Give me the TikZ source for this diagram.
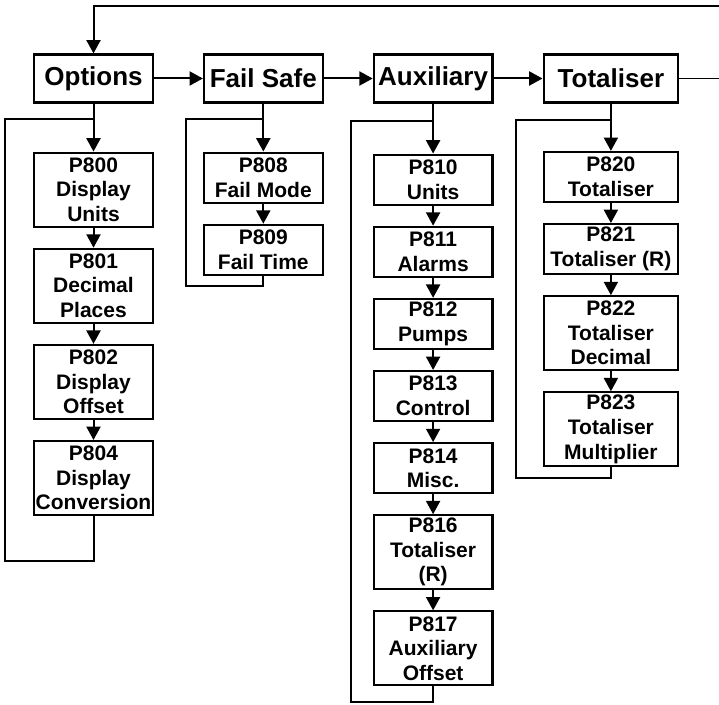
\documentclass[tikz,border=0pt]{standalone}
\usepackage{fontspec}
\setmainfont{Liberation Sans}
\usetikzlibrary{arrows.meta,positioning,calc}
\tikzset{
  menu/.style={draw,line width=1.6pt,minimum width=89pt,minimum height=36pt,inner sep=0pt,font=\fontsize{19.5pt}{22pt}\selectfont\bfseries},
  param/.style={draw,line width=1.6pt,minimum width=89pt,inner sep=0pt,align=center,font=\fontsize{15.75pt}{18.4pt}\selectfont\bfseries},
  two/.style={minimum height=37.5pt},
  three/.style={minimum height=55.5pt},
  wide/.style={minimum width=101pt},
  arr/.style={-{Triangle[length=10pt,width=10.5pt]},line width=1.5pt},
  loopline/.style={line width=1.5pt},
  exitline/.style={line width=1pt}
}
\begin{document}
\begin{tikzpicture}[x=0.75pt,y=-0.75pt,node distance=15pt and 36.75pt]
  \useasboundingbox (0,0) rectangle (719,705);
  % menu headers
  \node[menu] (opt) at (93.5,78.5) {Options};
  \node[menu,right=of opt] (fail) {Fail Safe};
  \node[menu,right=of fail] (aux) {Auxiliary};
  \node[menu,wide,right=of aux] (tot) {Totaliser};
  \coordinate (back) at (719,6);
  \coordinate (totout) at (719,78.5);
  \draw[arr] (opt) -- (fail);
  \draw[arr] (fail) -- (aux);
  \draw[arr] (aux) -- (tot);
  \draw[exitline] (tot) -- (totout);
  \draw[arr] (back) -| (opt);

  % options
  \node[param,three,below=36pt of opt] (p800) {P800\\Display\\Units};
  \node[param,three,below=of p800] (p801) {P801\\Decimal\\Places};
  \node[param,three,below=of p801] (p802) {P802\\Display\\Offset};
  \node[param,three,below=of p802] (p804) {P804\\Display\\Conversion};
  \coordinate (j1) at ($(opt.south)+(0,15)$);
  \draw[arr] (opt) -- (p800);
  \draw[arr] (p800) -- (p801);
  \draw[arr] (p801) -- (p802);
  \draw[arr] (p802) -- (p804);
  \draw[loopline] (p804.south) |- ++(-88.5,45) |- (j1);

  % fail safe
  \node[param,two,below=36pt of fail] (p808) {P808\\Fail Mode};
  \node[param,two,below=of p808] (p809) {P809\\Fail Time};
  \coordinate (j2) at ($(fail.south)+(0,15)$);
  \draw[arr] (fail) -- (p808);
  \draw[arr] (p808) -- (p809);
  \draw[loopline] (p809.south) |- ++(-77,10) |- (j2);

  % auxiliary
  \node[param,two,below=37.5pt of aux] (p810) {P810\\Units};
  \node[param,two,below=of p810] (p811) {P811\\Alarms};
  \node[param,two,below=of p811] (p812) {P812\\Pumps};
  \node[param,two,below=of p812] (p813) {P813\\Control};
  \node[param,two,below=of p813] (p814) {P814\\Misc.};
  \node[param,three,below=of p814] (p816) {P816\\Totaliser\\(R)};
  \node[param,three,below=of p816] (p817) {P817\\Auxiliary\\Offset};
  \coordinate (j3) at ($(aux.south)+(0,17)$);
  \draw[arr] (aux) -- (p810);
  \draw[arr] (p810) -- (p811);
  \draw[arr] (p811) -- (p812);
  \draw[arr] (p812) -- (p813);
  \draw[arr] (p813) -- (p814);
  \draw[arr] (p814) -- (p816);
  \draw[arr] (p816) -- (p817);
  \draw[loopline] (p817.south) |- ++(-82.5,16) |- (j3);

  % totaliser
  \node[param,two,wide,below=35.5pt of tot] (p820) {P820\\Totaliser};
  \node[param,two,wide,below=of p820] (p821) {P821\\Totaliser (R)};
  \node[param,three,wide,below=of p821] (p822) {P822\\Totaliser\\Decimal};
  \node[param,three,wide,below=of p822] (p823) {P823\\Totaliser\\Multiplier};
  \coordinate (j4) at ($(tot.south)+(0,16)$);
  \draw[arr] (tot) -- (p820);
  \draw[arr] (p820) -- (p821);
  \draw[arr] (p821) -- (p822);
  \draw[arr] (p822) -- (p823);
  \draw[loopline] (p823.south) |- ++(-94.5,11) |- (j4);
\end{tikzpicture}
\end{document}
